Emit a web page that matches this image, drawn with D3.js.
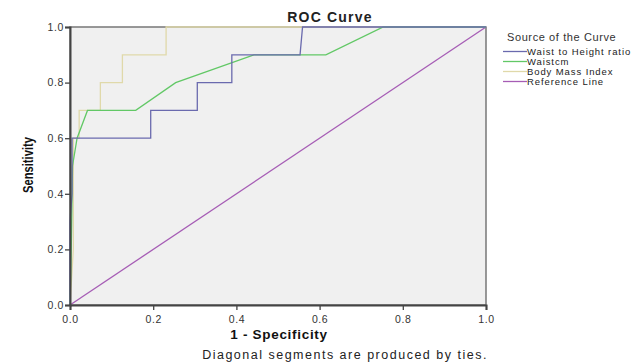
<!DOCTYPE html>
<html>
<head>
<meta charset="utf-8">
<script src="https://cdn.jsdelivr.net/npm/d3@7"></script>
<style>
  html, body { margin: 0; padding: 0; background: #fff; }
  svg { display: block; font-family: "Liberation Sans", Arial, sans-serif; }
</style>
</head>
<body>
<div id="chart"></div>
<script>
// ROC curve points: [1 - specificity, sensitivity]
var waistHeight = [[0, 0], [0, 0.3], [0.005, 0.4], [0.005, 0.6], [0.194, 0.6], [0.194, 0.7],
  [0.306, 0.7], [0.306, 0.8], [0.389, 0.8], [0.389, 0.9], [0.553, 0.9], [0.559, 1.0], [1, 1]];
var waistCm = [[0, 0], [0.003, 0.2], [0.006, 0.5], [0.017, 0.6], [0.042, 0.7], [0.158, 0.7],
  [0.254, 0.8], [0.442, 0.9], [0.615, 0.9], [0.753, 1.0], [1, 1]];
var bmi = [[0, 0], [0.008, 0.2], [0.008, 0.6], [0.022, 0.6], [0.022, 0.7], [0.073, 0.7],
  [0.073, 0.8], [0.126, 0.8], [0.126, 0.9], [0.231, 0.9], [0.231, 1.0], [1, 1]];
var referenceLine = [[0, 0], [1, 1]];

var seriesNames = ["Waist to Height ratio", "Waistcm", "Body Mass Index", "Reference Line"];
var seriesColors = ["#6a6aae", "#62c866", "#e0d9aa", "#a65db5"];
var tickValues = [0, 0.2, 0.4, 0.6, 0.8, 1.0];

(function () {
  "use strict";

  var width = 643, height = 363;
  var plot = { left: 70, right: 486, top: 27, bottom: 305 };

  var svg = d3.select("#chart").append("svg")
    .attr("width", width)
    .attr("height", height);

  var x = d3.scaleLinear().domain([0, 1]).range([plot.left, plot.right]);
  var y = d3.scaleLinear().domain([0, 1]).range([plot.bottom, plot.top]);

  // Plot background + frame.
  svg.append("rect")
    .attr("x", plot.left).attr("y", plot.top)
    .attr("width", plot.right - plot.left).attr("height", plot.bottom - plot.top)
    .attr("fill", "#f0f0f0")
    .attr("stroke", "#6e6e6e")
    .attr("stroke-width", 1.4);

  // Curves (reference first, BMI under the others).
  var line = d3.line().x(function (d) { return x(d[0]); }).y(function (d) { return y(d[1]); });
  var drawOrder = [
    { data: referenceLine, i: 3 },
    { data: bmi, i: 2 },
    { data: waistCm, i: 1 },
    { data: waistHeight, i: 0 }
  ];
  drawOrder.forEach(function (s) {
    svg.append("path")
      .datum(s.data)
      .attr("d", line)
      .attr("fill", "none")
      .attr("stroke", seriesColors[s.i])
      .attr("stroke-width", 1.3);
  });

  // Axes.
  var fmt = d3.format(".1f");
  var xAxis = svg.append("g")
    .attr("transform", "translate(0," + plot.bottom + ")")
    .call(d3.axisBottom(x).tickValues(tickValues).tickFormat(fmt).tickSizeOuter(0).tickSize(5));
  var yAxis = svg.append("g")
    .attr("transform", "translate(" + plot.left + ",0)")
    .call(d3.axisLeft(y).tickValues(tickValues).tickFormat(fmt).tickSizeOuter(0).tickSize(5));

  [xAxis, yAxis].forEach(function (g) {
    g.select(".domain").attr("stroke", "#444").attr("stroke-width", 2);
    g.selectAll(".tick line").attr("stroke", "#444").attr("stroke-width", 1.3);
    g.selectAll(".tick text")
      .attr("fill", "#333")
      .attr("font-size", "10.5px")
      .attr("letter-spacing", "0.6px")
      .attr("font-family", "'Liberation Sans', Arial, sans-serif");
  });
  xAxis.selectAll(".tick text").attr("dy", "0.95em");
  yAxis.selectAll(".tick text").attr("x", -6);

  // Title and axis labels.
  svg.append("text")
    .attr("x", 330).attr("y", 22)
    .attr("text-anchor", "middle")
    .attr("font-size", "14px").attr("font-weight", "bold")
    .attr("letter-spacing", "1.2px")
    .attr("fill", "#222")
    .text("ROC Curve");

  svg.append("text")
    .attr("x", 279).attr("y", 339)
    .attr("text-anchor", "middle")
    .attr("font-size", "13.5px").attr("font-weight", "bold")
    .attr("letter-spacing", "0.7px")
    .attr("fill", "#111")
    .text("1 - Specificity");

  svg.append("text")
    .attr("transform", "translate(33,165) rotate(-90)")
    .attr("text-anchor", "middle")
    .attr("font-size", "14px").attr("font-weight", "bold")
    .attr("textLength", 56)
    .attr("lengthAdjust", "spacingAndGlyphs")
    .attr("fill", "#111")
    .text("Sensitivity");

  svg.append("text")
    .attr("x", 345).attr("y", 359)
    .attr("text-anchor", "middle")
    .attr("font-size", "12.5px")
    .attr("letter-spacing", "1.5px")
    .attr("fill", "#222")
    .text("Diagonal segments are produced by ties.");

  // Legend.
  var legend = svg.append("g");
  legend.append("text")
    .attr("x", 507).attr("y", 41)
    .attr("font-size", "11px")
    .attr("letter-spacing", "0.6px")
    .attr("fill", "#333")
    .text("Source of the Curve");

  seriesNames.forEach(function (name, i) {
    var yy = 51.5 + i * 10;
    legend.append("line")
      .attr("x1", 503).attr("x2", 527)
      .attr("y1", yy).attr("y2", yy)
      .attr("stroke", seriesColors[i])
      .attr("stroke-width", 1.3);
    legend.append("text")
      .attr("x", 527).attr("y", yy + 3.5)
      .attr("font-size", "9.5px")
      .attr("letter-spacing", "0.9px")
      .attr("fill", "#222")
      .text(name);
  });
})();
</script>
</body>
</html>
